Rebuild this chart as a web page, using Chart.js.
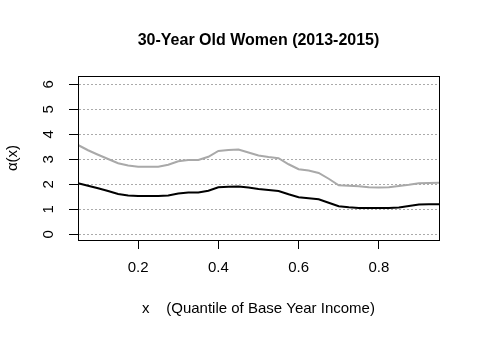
<!DOCTYPE html>
<html>
<head>
<meta charset="utf-8">
<script src="https://cdn.jsdelivr.net/npm/chart.js@4/dist/chart.umd.min.js"></script>
<style>
    html, body { margin: 0; padding: 0; background: #ffffff; }
    canvas { display: block; }
</style>
</head>
<body>
<canvas id="alphaChart" width="480" height="338"></canvas>
<script>
// quantile of base year income (x) and the two alpha(x) curves
const quantiles = [0.05, 0.075, 0.1, 0.125, 0.15, 0.175, 0.2, 0.225, 0.25, 0.275,
    0.3, 0.325, 0.35, 0.375, 0.4, 0.425, 0.45, 0.475, 0.5, 0.525,
    0.55, 0.575, 0.6, 0.625, 0.65, 0.675, 0.7, 0.725, 0.75, 0.775,
    0.8, 0.825, 0.85, 0.875, 0.9, 0.925, 0.95];
const upperAlpha = [3.57, 3.36, 3.18, 3.01, 2.84, 2.75, 2.70, 2.70, 2.70, 2.78,
    2.92, 2.97, 2.97, 3.10, 3.33, 3.37, 3.39, 3.27, 3.15, 3.09,
    3.04, 2.80, 2.60, 2.55, 2.45, 2.22, 1.96, 1.94, 1.92, 1.88,
    1.87, 1.88, 1.93, 1.98, 2.04, 2.05, 2.06];
const lowerAlpha = [2.04, 1.94, 1.84, 1.73, 1.61, 1.55, 1.53, 1.53, 1.53, 1.55,
    1.63, 1.67, 1.67, 1.74, 1.88, 1.90, 1.91, 1.87, 1.81, 1.77,
    1.73, 1.60, 1.48, 1.44, 1.40, 1.26, 1.12, 1.08, 1.05, 1.05,
    1.05, 1.05, 1.07, 1.13, 1.19, 1.20, 1.20];
const xTicks = [0.2, 0.4, 0.6, 0.8];
const yTicks = [0, 1, 2, 3, 4, 5, 6];

const FONT = 'Liberation Sans, Arial, sans-serif';

// R-style box around the plot region
const plotBox = {
    id: 'plotBox',
    afterDraw(chart) {
        const { ctx, chartArea: a } = chart;
        ctx.save();
        ctx.strokeStyle = '#000';
        ctx.lineWidth = 1;
        ctx.strokeRect(Math.round(a.left) + 0.5, Math.round(a.top) + 0.5,
            Math.round(a.right - a.left), Math.round(a.bottom - a.top));
        ctx.restore();
    }
};

const toPoints = ys => ys.map((y, i) => ({ x: quantiles[i], y: y }));

new Chart(document.getElementById('alphaChart'), {
    type: 'line',
    data: {
        datasets: [
            {
                data: toPoints(upperAlpha),
                borderColor: '#a9a9a9',
                borderWidth: 2,
                pointRadius: 0,
                tension: 0
            },
            {
                data: toPoints(lowerAlpha),
                borderColor: '#000000',
                borderWidth: 2,
                pointRadius: 0,
                tension: 0
            }
        ]
    },
    options: {
        responsive: false,
        animation: false,
        layout: { padding: { top: 0, right: 41, bottom: 0, left: 0 } },
        plugins: {
            legend: { display: false },
            tooltip: { enabled: false },
            title: {
                display: true,
                text: '30-Year Old Women (2013-2015)',
                fullSize: false,
                color: '#000',
                font: { family: FONT, size: 16, weight: 'bold' },
                padding: { top: 31.4, bottom: 25.4 }
            }
        },
        scales: {
            x: {
                type: 'linear',
                min: 0.05,
                max: 0.95,
                afterBuildTicks: s => { s.ticks = xTicks.map(v => ({ value: v })); },
                afterFit: s => { s.height = 98; },
                grid: { drawOnChartArea: false, drawTicks: true, tickLength: 9, tickColor: '#000', tickWidth: 1 },
                border: { display: true, color: '#000', width: 1 },
                ticks: {
                    color: '#000',
                    font: { family: FONT, size: 15 },
                    padding: 10,
                    maxRotation: 0,
                    callback: v => v.toFixed(1)
                },
                title: {
                    display: true,
                    text: 'x    (Quantile of Base Year Income)',
                    color: '#000',
                    font: { family: FONT, size: 15 },
                    padding: { top: 0, bottom: 20 }
                }
            },
            y: {
                type: 'linear',
                min: -0.23,
                max: 6.33,
                afterBuildTicks: s => { s.ticks = yTicks.map(v => ({ value: v })); },
                afterFit: s => { s.width = 78; },
                grid: { color: '#aaaaaa', lineWidth: 1, tickLength: 9, tickColor: '#000', tickWidth: 1 },
                border: { display: true, color: '#000', width: 1, dash: [2, 2] },
                ticks: {
                    color: '#000',
                    font: { family: FONT, size: 15 },
                    minRotation: 90,
                    maxRotation: 90,
                    crossAlign: 'center',
                    padding: 16,
                    callback: v => String(v)
                },
                title: {
                    display: true,
                    text: 'α(x)',
                    color: '#000',
                    font: { family: FONT, size: 15 },
                    padding: { top: 3.5, bottom: 0 }
                }
            }
        }
    },
    plugins: [plotBox]
});
</script>
</body>
</html>
